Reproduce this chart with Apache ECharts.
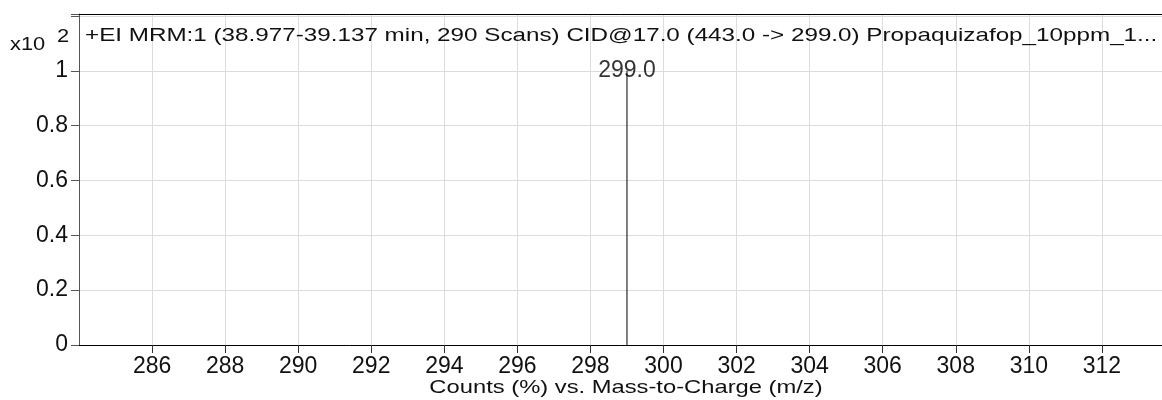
<!DOCTYPE html>
<html>
<head>
<meta charset="utf-8">
<script src="https://cdn.jsdelivr.net/npm/echarts@6/dist/echarts.min.js"></script>
<style>
  html, body { margin: 0; padding: 0; background: #fff; }
  #main { width: 1162px; height: 400px; }
</style>
</head>
<body>
<div id="main"></div>
<script>
// 质谱峰数据
var peakMz = [299.0];
var peakAbund = [1.0];
var peakLabels = ['299.0'];

var xMin = 284, xMax = 313.7, xStep = 2;
var yMin = 0, yMax = 1.207, yStep = 0.2;

var titleText = '+EI MRM:1 (38.977-39.137 min, 290 Scans) CID@17.0 (443.0 -> 299.0) Propaquizafop_10ppm_1...';
var xName = 'Counts (%) vs. Mass-to-Charge (m/z)';
var yScaleText = 'x10';
var yScaleExp = '2';

var FONT = '"Liberation Sans", Arial, sans-serif';
var TXT = '#111';
var GRID_C = '#dcdcdc';

var chartDom = document.getElementById('main');
var myChart = echarts.init(chartDom);

// 每个峰一条竖线；第一条顺便带上顶边框（markLine 在 y 轴最大值处）
var peakSeries = peakMz.map(function (mz, i) {
  var s = {
    type: 'line',
    data: [[mz, 0], [mz, peakAbund[i]]],
    symbol: 'none',
    lineStyle: { color: '#000', width: 1 },
    silent: true,
    z: 5
  };
  if (i === 0) {
    s.markLine = {
      silent: true,
      symbol: 'none',
      label: { show: false },
      lineStyle: { color: '#000', type: 'solid', width: 1 },
      data: [{ yAxis: yMax }]
    };
  }
  return s;
});

// 原图文字横向偏宽，用 scaleX 拉伸
function wideText(str, x, y, align, size, sx) {
  return {
    type: 'text',
    x: x,
    y: y,
    scaleX: sx,
    z: 10,
    silent: true,
    style: { text: str, x: 0, y: 0, align: align, verticalAlign: 'middle', font: size + 'px ' + FONT, fill: TXT }
  };
}

var option = {
  animation: false,
  grid: { left: 79, top: 14, right: -2, bottom: 55, outerBoundsMode: 'none' },
  graphic: [
    wideText(yScaleText, 10, 45, 'left', 19, 1.15),
    wideText(yScaleExp, 57, 37, 'left', 19, 1.15),
    wideText(titleText, 85, 36, 'left', 19, 1.275),
    wideText(xName, 626, 388, 'center', 19, 1.25)
  ],
  xAxis: [{
    type: 'value',
    gridIndex: 0,
    position: 'bottom',
    min: xMin,
    max: xMax,
    interval: xStep,
    axisLine: { show: true, onZero: false, lineStyle: { color: '#000', width: 1 } },
    axisTick: { show: true, length: 8, lineStyle: { color: '#333' } },
    axisLabel: { showMinLabel: false, showMaxLabel: false, fontSize: 23, fontFamily: FONT, color: TXT, margin: 10 },
    splitLine: { show: true, lineStyle: { color: GRID_C, width: 1 } }
  }, {
    // 顶边框
    type: 'value',
    gridIndex: 0,
    position: 'top',
    show: true,
    min: xMin,
    max: xMax,
    interval: xStep,
    axisLine: { show: true, onZero: false, lineStyle: { color: '#000', width: 1 } },
    axisTick: { show: false },
    axisLabel: { show: false },
    splitLine: { show: false },
    z: 20
  }],
  yAxis: {
    type: 'value',
    min: yMin,
    max: yMax,
    interval: yStep,
    axisLine: { show: true, lineStyle: { color: '#555', width: 1 } },
    axisTick: { show: true, length: 8, lineStyle: { color: '#555' } },
    axisLabel: {
      fontSize: 23, fontFamily: FONT, color: TXT, margin: 11,
      formatter: function (v) { return v > 1.0001 ? '' : String(Math.round(v * 10) / 10); }
    },
    splitLine: { show: true, lineStyle: { color: GRID_C, width: 1 } }
  },
  series: peakSeries.concat([{
    type: 'scatter',
    data: peakMz.map(function (mz, i) { return [mz, peakAbund[i]]; }),
    symbolSize: 1,
    itemStyle: { color: 'transparent' },
    label: {
      show: true,
      position: 'inside',
      formatter: function (p) { return peakLabels[p.dataIndex]; },
      fontSize: 23,
      fontFamily: FONT,
      color: '#000'
    },
    silent: true,
    z: 6
  }])
};

option && myChart.setOption(option);
</script>
</body>
</html>
